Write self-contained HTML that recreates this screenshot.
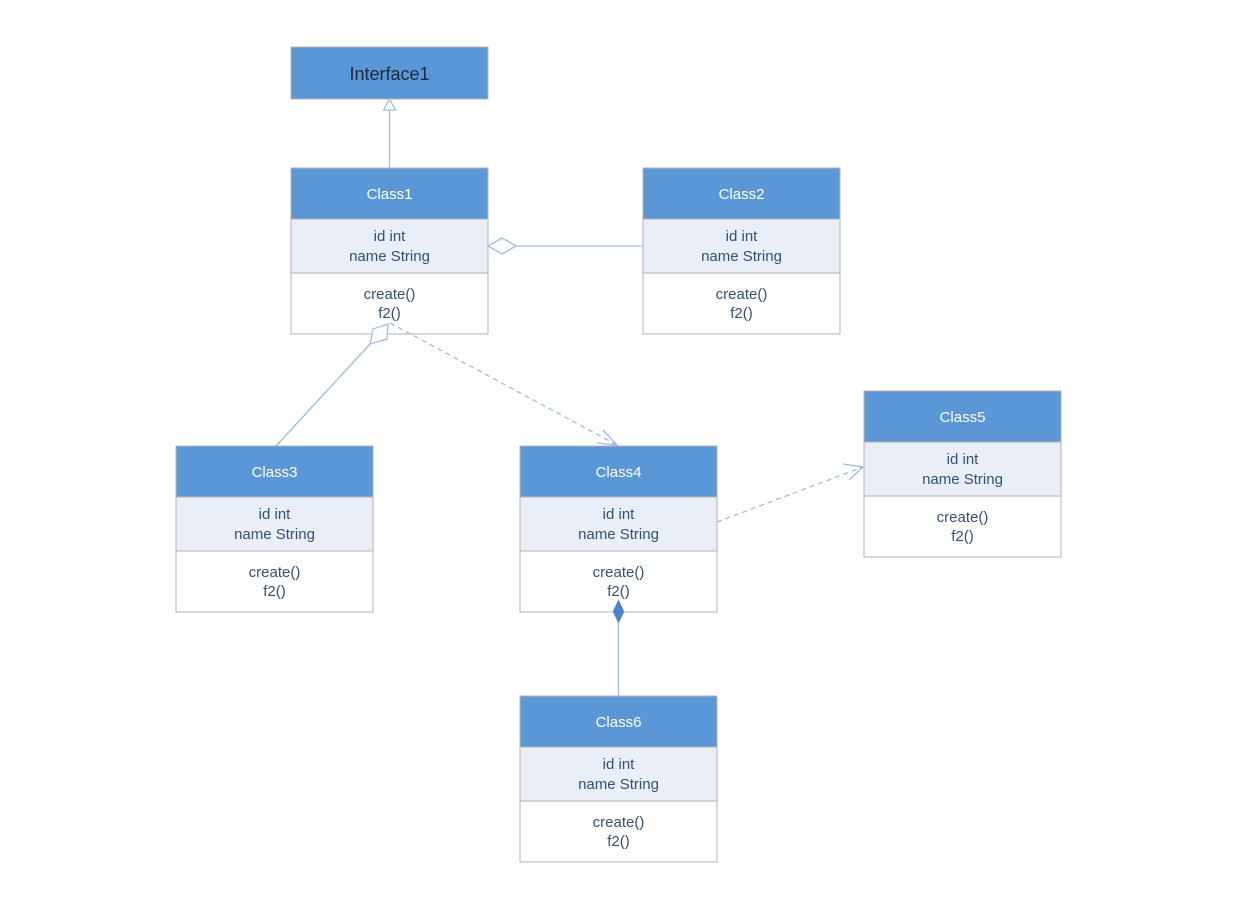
<!DOCTYPE html>
<html><head><meta charset="utf-8"><style>
html,body{margin:0;padding:0;background:#fff;}
svg{display:block;}
text{font-family:"Liberation Sans",sans-serif;font-size:15px;text-anchor:middle;}
.h{fill:#fff;}
.t{fill:#34507a;}
</style></head><body>
<svg width="1238" height="910" viewBox="0 0 1238 910" xmlns="http://www.w3.org/2000/svg">
<defs>
<g id="box">
<rect x="0" y="0" width="197" height="166" fill="#fff" stroke="#b3b3b3" stroke-width="1"/>
<rect x="0" y="0" width="197" height="51" fill="#5b97d6" stroke="#b3b3b3" stroke-width="1"/>
<rect x="0" y="51" width="197" height="54" fill="#e9eef7" stroke="#b3b3b3" stroke-width="1"/>
<text class="t" x="98.5" y="73">id int</text>
<text class="t" x="98.5" y="93">name String</text>
<text class="t" x="98.5" y="131">create()</text>
<text class="t" x="98.5" y="150">f2()</text>
</g>
</defs>

<rect x="291" y="47" width="197" height="52" fill="#5b97d6" stroke="#b3b3b3"/>
<text x="389.5" y="80" style="font-size:18px;fill:#1a2a40">Interface1</text>

<use href="#box" x="291" y="168"/><text class="h" x="389.5" y="199">Class1</text>
<use href="#box" x="643" y="168"/><text class="h" x="741.5" y="199">Class2</text>
<use href="#box" x="176" y="446"/><text class="h" x="274.5" y="477">Class3</text>
<use href="#box" x="520" y="446"/><text class="h" x="618.5" y="477">Class4</text>
<use href="#box" x="864" y="391"/><text class="h" x="962.5" y="422">Class5</text>
<use href="#box" x="520" y="696"/><text class="h" x="618.5" y="727">Class6</text>

<g stroke="#9dbde6" stroke-width="1.3" fill="none">
<line x1="389.5" y1="110" x2="389.5" y2="168"/>
<polygon points="389.5,99 383.5,110 395.5,110" fill="#fff"/>
<line x1="516" y1="246" x2="643" y2="246"/>
<polygon points="488,246 502,238 516,246 502,254" fill="#fff"/>
<line x1="370" y1="344" x2="276" y2="446"/>
<polygon points="388,324 387,339 370,344 373,329" fill="#fff"/>
<line x1="390" y1="323" x2="617" y2="445" stroke-dasharray="5,4"/>
<polyline points="603,430 617,445 597,443"/>
<line x1="717" y1="522" x2="863" y2="467" stroke-dasharray="5,4"/>
<polyline points="843,464 863,467 849,480"/>
<line x1="618.5" y1="622" x2="618.5" y2="696"/>
<polygon points="618.5,601 623.5,611.5 618.5,622 613.5,611.5" fill="#4a84c8" stroke="#4a84c8"/>
</g>
</svg>
</body></html>
